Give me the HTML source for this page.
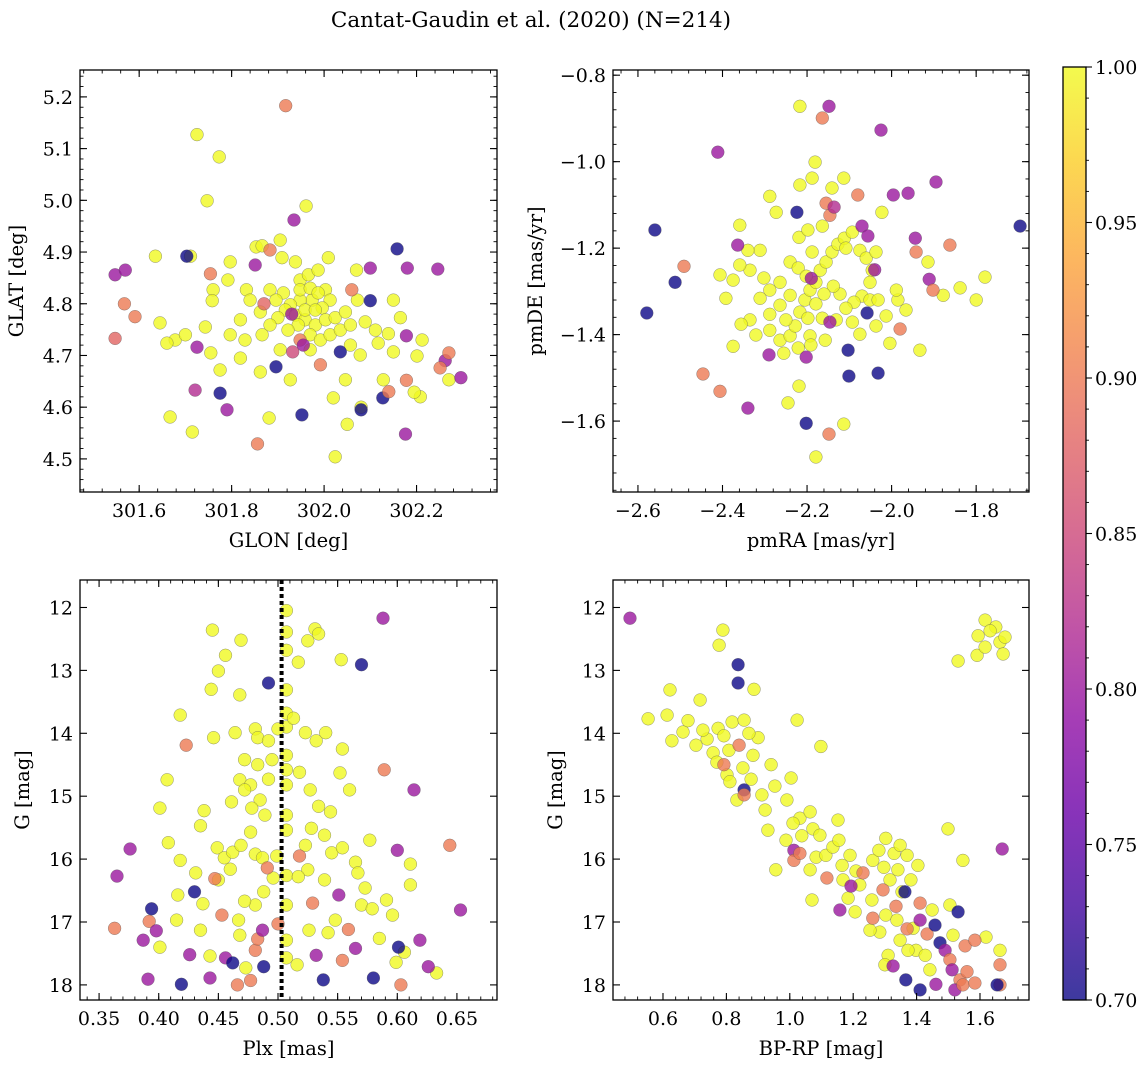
<!DOCTYPE html>
<html><head><meta charset="utf-8"><style>
html,body{margin:0;padding:0;background:#fff;}
svg{display:block;font-family:"DejaVu Serif","Liberation Serif",serif;}
</style></head><body>
<svg id="fig" width="1148" height="1067" viewBox="0 0 1148 1067" xmlns="http://www.w3.org/2000/svg">
<text x="531" y="27" font-size="21.5" text-anchor="middle" fill="#000">Cantat-Gaudin et al. (2020) (N=214)</text>
</svg>
<script>
// ---- data: [x, y, membership probability] ----
const glonGlatColored = [[301.917,5.183,0.90],[301.935,4.962,0.80],[301.703,4.892,0.70],[301.548,4.856,0.80],[301.570,4.865,0.80],[301.568,4.800,0.90],[301.591,4.775,0.90],[301.548,4.733,0.88],[301.754,4.858,0.90],[301.883,4.904,0.90],[301.851,4.875,0.80],[301.725,4.716,0.80],[301.721,4.633,0.82],[301.775,4.627,0.70],[301.790,4.595,0.80],[301.856,4.529,0.90],[301.952,4.585,0.70],[301.896,4.678,0.70],[301.932,4.707,0.85],[301.948,4.730,0.90],[301.992,4.682,0.90],[302.035,4.707,0.70],[302.060,4.827,0.90],[302.158,4.906,0.70],[302.100,4.869,0.80],[302.100,4.806,0.70],[302.180,4.869,0.80],[302.246,4.867,0.80],[302.178,4.738,0.80],[302.178,4.652,0.90],[302.176,4.548,0.80],[302.127,4.618,0.70],[302.080,4.595,0.70],[302.262,4.690,0.80],[302.270,4.705,0.90],[302.251,4.676,0.90],[302.296,4.657,0.80],[302.140,4.630,0.90],[301.955,4.720,0.80],[301.930,4.780,0.80],[301.870,4.800,0.88]];
const glonGlatYellow = [[301.725,5.127],[301.773,5.084],[301.747,4.999],[301.961,4.989],[301.635,4.892],[301.711,4.892],[301.645,4.763],[301.678,4.730],[301.660,4.724],[301.755,4.705],[301.700,4.740],[301.743,4.755],[301.760,4.827],[301.758,4.806],[301.797,4.881],[301.792,4.846],[301.832,4.827],[301.853,4.910],[301.866,4.912],[301.905,4.923],[301.883,4.827],[301.840,4.807],[301.819,4.769],[301.797,4.740],[301.829,4.730],[301.862,4.784],[301.909,4.889],[301.938,4.881],[301.948,4.846],[301.966,4.856],[301.987,4.865],[302.009,4.889],[302.003,4.827],[302.013,4.807],[301.996,4.792],[301.974,4.807],[301.948,4.807],[301.927,4.798],[301.916,4.788],[301.938,4.778],[301.959,4.769],[301.981,4.759],[302.003,4.769],[302.024,4.773],[302.046,4.784],[301.944,4.759],[301.922,4.749],[301.900,4.773],[301.883,4.759],[301.866,4.740],[301.970,4.740],[301.992,4.730],[302.013,4.740],[302.035,4.749],[302.057,4.759],[302.070,4.865],[302.072,4.807],[302.089,4.765],[302.117,4.724],[302.139,4.742],[302.150,4.807],[302.057,4.720],[302.078,4.701],[302.046,4.653],[302.020,4.618],[302.024,4.504],[302.080,4.600],[302.050,4.567],[301.881,4.579],[301.715,4.552],[301.667,4.581],[301.862,4.668],[301.927,4.653],[301.819,4.695],[301.775,4.672],[302.212,4.730],[302.201,4.699],[302.208,4.620],[302.270,4.653],[302.195,4.629],[302.111,4.749],[302.128,4.653],[301.912,4.821],[301.896,4.807],[301.948,4.827],[301.970,4.830],[301.987,4.821],[301.959,4.788],[301.981,4.788],[302.165,4.773],[302.150,4.707],[301.970,4.711],[301.905,4.711]];

const pmColored = [[-2.148,-0.872,0.80],[-2.164,-0.899,0.90],[-2.411,-0.978,0.80],[-2.025,-0.927,0.80],[-2.560,-1.158,0.70],[-2.491,-1.242,0.90],[-2.512,-1.279,0.70],[-2.579,-1.350,0.70],[-2.364,-1.193,0.80],[-1.961,-1.073,0.80],[-1.996,-1.077,0.80],[-1.895,-1.047,0.80],[-2.080,-1.077,0.90],[-2.224,-1.117,0.70],[-2.155,-1.096,0.90],[-2.146,-1.124,0.90],[-2.136,-1.105,0.82],[-2.070,-1.149,0.80],[-2.056,-1.172,0.80],[-1.944,-1.177,0.80],[-1.862,-1.193,0.90],[-1.942,-1.209,0.90],[-1.911,-1.272,0.80],[-1.902,-1.297,0.90],[-2.058,-1.350,0.70],[-1.980,-1.387,0.90],[-2.146,-1.371,0.80],[-2.290,-1.447,0.80],[-2.202,-1.452,0.80],[-2.103,-1.436,0.70],[-2.101,-1.496,0.70],[-2.032,-1.489,0.70],[-2.446,-1.491,0.90],[-2.406,-1.531,0.90],[-2.340,-1.570,0.80],[-2.202,-1.605,0.70],[-2.148,-1.630,0.90],[-1.696,-1.149,0.70],[-2.040,-1.250,0.80],[-2.190,-1.270,0.80]];
const pmYellow = [[-2.217,-0.872],[-2.181,-1.001],[-2.113,-1.607],[-2.179,-1.683],[-2.219,-1.519],[-2.245,-1.558],[-2.273,-1.117],[-2.219,-1.175],[-2.240,-1.232],[-2.264,-1.279],[-2.288,-1.297],[-2.311,-1.316],[-2.335,-1.251],[-2.359,-1.239],[-2.375,-1.274],[-2.392,-1.316],[-2.335,-1.366],[-2.321,-1.401],[-2.288,-1.390],[-2.264,-1.413],[-2.255,-1.443],[-2.240,-1.403],[-2.228,-1.380],[-2.217,-1.348],[-2.205,-1.320],[-2.193,-1.297],[-2.179,-1.279],[-2.169,-1.251],[-2.155,-1.232],[-2.141,-1.209],[-2.127,-1.191],[-2.112,-1.177],[-2.093,-1.163],[-2.075,-1.205],[-2.060,-1.223],[-2.046,-1.251],[-2.037,-1.209],[-2.051,-1.279],[-2.070,-1.311],[-2.089,-1.325],[-2.108,-1.339],[-2.122,-1.306],[-2.138,-1.288],[-2.160,-1.306],[-2.179,-1.329],[-2.198,-1.362],[-2.164,-1.362],[-2.131,-1.366],[-2.093,-1.371],[-2.075,-1.399],[-2.051,-1.320],[-2.032,-1.320],[-2.013,-1.357],[-2.037,-1.380],[-2.004,-1.420],[-1.985,-1.320],[-1.989,-1.297],[-1.966,-1.343],[-1.933,-1.436],[-1.838,-1.292],[-1.779,-1.267],[-1.800,-1.320],[-1.878,-1.309],[-1.914,-1.232],[-2.198,-1.158],[-2.164,-1.149],[-2.108,-1.200],[-2.188,-1.209],[-2.221,-1.246],[-2.202,-1.265],[-2.240,-1.309],[-2.264,-1.332],[-2.288,-1.353],[-2.302,-1.269],[-2.193,-1.403],[-2.157,-1.413],[-2.221,-1.431],[-2.191,-1.424],[-2.250,-1.366],[-2.356,-1.376],[-2.375,-1.427],[-2.406,-1.262],[-2.359,-1.147],[-2.288,-1.080],[-2.217,-1.054],[-2.188,-1.038],[-2.141,-1.061],[-2.113,-1.038],[-2.023,-1.117],[-2.311,-1.205],[-2.340,-1.205]];

const plxGColored = [[0.492,13.20,0.70],[0.570,12.91,0.70],[0.588,12.17,0.80],[0.589,14.58,0.90],[0.614,14.90,0.80],[0.644,15.78,0.90],[0.653,16.81,0.80],[0.365,16.27,0.80],[0.376,15.84,0.80],[0.363,17.10,0.90],[0.387,17.29,0.80],[0.392,16.99,0.90],[0.394,16.79,0.70],[0.391,17.91,0.80],[0.398,17.14,0.80],[0.419,17.99,0.70],[0.426,17.52,0.80],[0.430,16.52,0.70],[0.443,17.89,0.80],[0.447,16.31,0.90],[0.423,14.19,0.90],[0.453,16.89,0.90],[0.456,17.57,0.80],[0.466,18.00,0.90],[0.462,17.65,0.70],[0.477,17.93,0.90],[0.481,17.45,0.90],[0.483,17.27,0.90],[0.488,17.71,0.70],[0.487,17.13,0.80],[0.491,16.14,0.90],[0.518,15.95,0.90],[0.529,16.70,0.90],[0.532,17.53,0.80],[0.538,17.92,0.70],[0.551,16.57,0.80],[0.554,17.61,0.90],[0.559,17.12,0.90],[0.565,17.42,0.80],[0.580,17.89,0.70],[0.601,17.40,0.70],[0.603,18.00,0.90],[0.619,17.29,0.80],[0.626,17.71,0.80],[0.600,15.86,0.80],[0.500,17.03,0.90]];
const plxGYellow = [[0.445,12.36],[0.469,12.52],[0.456,12.76],[0.450,13.01],[0.444,13.30],[0.468,13.39],[0.531,12.34],[0.525,12.53],[0.534,12.42],[0.517,12.87],[0.553,12.83],[0.507,12.05],[0.507,12.39],[0.507,12.68],[0.507,13.31],[0.507,13.68],[0.507,13.90],[0.507,14.35],[0.507,14.58],[0.507,14.82],[0.507,15.30],[0.507,15.54],[0.507,16.26],[0.507,16.73],[0.507,17.29],[0.507,17.57],[0.418,13.71],[0.446,14.07],[0.464,13.99],[0.481,13.93],[0.483,14.07],[0.492,14.12],[0.500,13.93],[0.513,13.76],[0.523,13.99],[0.532,14.12],[0.540,13.99],[0.472,14.42],[0.483,14.50],[0.495,14.42],[0.468,14.74],[0.477,14.82],[0.492,14.73],[0.518,14.62],[0.527,14.90],[0.534,15.16],[0.544,15.25],[0.554,14.25],[0.552,14.63],[0.560,14.90],[0.485,15.06],[0.461,15.09],[0.478,15.19],[0.489,15.30],[0.472,14.90],[0.407,14.74],[0.401,15.19],[0.408,15.74],[0.418,16.02],[0.416,16.57],[0.415,16.97],[0.431,16.22],[0.435,15.47],[0.438,15.23],[0.449,15.82],[0.455,15.98],[0.460,16.16],[0.462,15.89],[0.469,15.78],[0.477,15.57],[0.481,15.92],[0.487,15.98],[0.499,15.95],[0.496,16.30],[0.488,16.52],[0.481,16.73],[0.472,16.67],[0.467,16.97],[0.468,17.21],[0.523,15.78],[0.528,15.51],[0.539,15.62],[0.545,15.90],[0.554,15.82],[0.565,16.05],[0.567,16.22],[0.577,15.70],[0.573,16.46],[0.570,16.73],[0.579,16.79],[0.591,16.65],[0.596,16.89],[0.585,17.26],[0.599,17.64],[0.606,17.48],[0.611,16.41],[0.611,16.08],[0.633,17.81],[0.525,16.17],[0.539,16.33],[0.548,16.97],[0.526,17.13],[0.517,16.28],[0.542,17.17],[0.516,17.68],[0.401,17.40],[0.435,17.13],[0.450,16.33],[0.437,16.71],[0.443,17.54],[0.473,17.73]];
const plxLine = 0.503;

const cmdColored = [[0.496,12.17,0.80],[0.837,12.91,0.70],[0.837,13.20,0.70],[0.840,14.19,0.90],[0.792,14.50,0.90],[0.856,14.90,0.70],[0.856,14.98,0.90],[1.013,15.86,0.80],[1.013,16.02,0.90],[1.032,15.91,0.90],[1.117,16.30,0.90],[1.158,16.81,0.80],[1.193,16.43,0.80],[1.231,16.22,0.90],[1.262,16.94,0.90],[1.294,16.49,0.90],[1.335,16.75,0.90],[1.363,16.52,0.70],[1.370,17.11,0.90],[1.326,17.70,0.80],[1.411,16.70,0.90],[1.411,16.97,0.80],[1.433,17.19,0.90],[1.458,17.05,0.70],[1.474,17.33,0.70],[1.490,17.45,0.80],[1.505,17.60,0.90],[1.512,17.76,0.80],[1.537,17.92,0.90],[1.521,18.08,0.80],[1.546,18.00,0.90],[1.559,17.79,0.90],[1.553,17.38,0.90],[1.531,16.84,0.70],[1.366,17.92,0.70],[1.411,18.08,0.70],[1.461,17.99,0.80],[1.584,17.29,0.90],[1.584,17.97,0.90],[1.663,18.00,0.90],[1.663,17.68,0.90],[1.654,18.00,0.70],[1.670,15.84,0.80]];
const cmdYellow = [[1.594,12.45],[1.591,12.76],[1.616,12.63],[1.663,12.55],[1.673,12.74],[1.531,12.85],[1.650,12.31],[1.616,12.20],[1.632,12.37],[1.679,12.47],[0.553,13.77],[0.613,13.71],[0.628,14.12],[0.663,13.98],[0.679,13.80],[0.704,14.19],[0.739,14.09],[0.758,14.31],[0.774,13.92],[0.792,14.04],[0.808,14.27],[0.770,14.46],[0.802,14.66],[0.852,14.55],[0.878,14.73],[0.811,14.77],[0.833,15.06],[0.912,14.98],[0.953,14.84],[0.922,15.22],[0.991,15.06],[1.032,15.35],[1.064,15.25],[1.010,15.43],[0.988,15.70],[1.038,15.63],[1.073,15.52],[1.095,15.62],[1.083,15.97],[1.064,16.17],[1.114,15.94],[1.136,15.81],[1.155,15.70],[1.165,16.10],[1.190,15.94],[1.209,16.19],[1.168,16.33],[1.221,16.41],[1.262,16.02],[1.281,15.86],[1.297,16.13],[1.316,16.33],[1.341,16.17],[1.259,16.65],[1.303,16.89],[1.284,17.16],[1.338,16.97],[1.348,17.29],[1.389,17.10],[1.398,17.45],[1.310,17.53],[1.427,17.53],[1.449,16.81],[1.505,16.73],[1.354,16.52],[1.382,16.33],[1.404,16.10],[1.329,15.91],[1.348,15.78],[1.370,15.94],[1.303,15.67],[1.152,15.38],[0.931,15.54],[1.004,14.71],[0.941,14.50],[0.884,14.35],[0.900,14.07],[0.818,13.82],[0.717,13.47],[0.887,13.30],[0.777,12.60],[0.789,12.36],[0.622,13.31],[0.726,13.95],[0.871,14.00],[0.856,13.79],[1.023,13.79],[0.956,16.17],[1.070,16.65],[1.184,16.62],[1.206,16.84],[1.253,17.13],[1.300,17.68],[1.373,17.45],[1.442,17.76],[1.515,17.21],[1.619,17.24],[1.663,17.45],[1.546,16.02],[1.499,15.52],[1.098,14.21]];

const glonTicks = [301.6, 301.8, 302.0, 302.2];
const glatTicks = [4.5, 4.6, 4.7, 4.8, 4.9, 5.0, 5.1, 5.2];
const pmraTicks = [-2.6, -2.4, -2.2, -2.0, -1.8];
const pmdeTicks = [-1.6, -1.4, -1.2, -1.0, -0.8];
const plxTicks = [0.35, 0.40, 0.45, 0.50, 0.55, 0.60, 0.65];
const gTicks = [12, 13, 14, 15, 16, 17, 18];
const bprpTicks = [0.6, 0.8, 1.0, 1.2, 1.4, 1.6];
const cbarTicks = [0.70, 0.75, 0.80, 0.85, 0.90, 0.95, 1.00];

const NS = 'http://www.w3.org/2000/svg';
const svg = document.getElementById('fig');
const stops = ['#0d0887','#41049d','#6a00a8','#8f0da4','#b12a90','#cc4778','#e16462','#f2844b','#fca636','#fcce25','#f0f921'];
function hex(c){return [parseInt(c.substr(1,2),16),parseInt(c.substr(3,2),16),parseInt(c.substr(5,2),16)];}
function plasma(t){
  t=Math.max(0,Math.min(1,t));const f=t*10;const i=Math.min(9,Math.floor(f));const u=f-i;
  const a=hex(stops[i]),b=hex(stops[i+1]);
  return 'rgb('+a.map((v,k)=>Math.round(v+(b[k]-v)*u)).join(',')+')';
}
function colorOf(p){return plasma((p-0.7)/0.3);}
function mk(tag,attrs,parent){const e=document.createElementNS(NS,tag);for(const k in attrs)e.setAttribute(k,attrs[k]);(parent||svg).appendChild(e);return e;}
function fmtMinus(s){return s.replace('-','\u2212');}
const TF=19, AF=19.5;

function panel(cfg){
  const g=mk('g',{});
  
  
  const sx=v=>cfg.L+(v-cfg.x0)/(cfg.x1-cfg.x0)*(cfg.R-cfg.L);
  const sy=v=>cfg.B-(v-cfg.y0)/(cfg.y1-cfg.y0)*(cfg.B-cfg.T);
  const drawPt=(x,y,p)=>{
    const c=mk('circle',{cx:sx(x).toFixed(1),cy:sy(y).toFixed(1),r:6.4,fill:colorOf(p),'fill-opacity':0.8,stroke:'#555','stroke-width':0.4,'stroke-opacity':0.8},g);
    
    
  };
  cfg.yellow.forEach(d=>drawPt(d[0],d[1],1.0));
  cfg.colored.forEach(d=>drawPt(d[0],d[1],d[2]));
  if(cfg.vline!==undefined){
    const ln=mk('line',{x1:sx(cfg.vline),x2:sx(cfg.vline),y1:cfg.T,y2:cfg.B,stroke:'#000','stroke-width':4,'stroke-dasharray':'4,3'},g);
    
    
  }
  const fr=mk('rect',{x:cfg.L,y:cfg.T,width:cfg.R-cfg.L,height:cfg.B-cfg.T,fill:'none',stroke:'#000','stroke-width':1.3},g);
  
  
  const tk=(x1,y1,x2,y2,w)=>mk('line',{x1,y1,x2,y2,stroke:'#000','stroke-width':w},g);
  const xm0=Math.ceil(cfg.x0/cfg.xminor-1e-6);
  for(let k=xm0;k*cfg.xminor<=cfg.x1;k++){const X=sx(k*cfg.xminor);tk(X,cfg.B,X,cfg.B-3.5,0.9);tk(X,cfg.T,X,cfg.T+3.5,0.9);}
  const ym0=Math.ceil(cfg.y0/cfg.yminor-1e-6);
  for(let k=ym0;k*cfg.yminor<=cfg.y1;k++){const Y=sy(k*cfg.yminor);tk(cfg.L,Y,cfg.L+3.5,Y,0.9);tk(cfg.R,Y,cfg.R-3.5,Y,0.9);}
  cfg.xticks.forEach(v=>{const X=sx(v);tk(X,cfg.B,X,cfg.B-7,1.1);tk(X,cfg.T,X,cfg.T+7,1.1);
    const t=mk('text',{x:X,y:cfg.B+25,'font-size':TF,'text-anchor':'middle',fill:'#000'},g);t.textContent=fmtMinus(v.toFixed(cfg.xdec));
    
    });
  cfg.yticks.forEach(v=>{const Y=sy(v);tk(cfg.L,Y,cfg.L+7,Y,1.1);tk(cfg.R,Y,cfg.R-7,Y,1.1);
    const t=mk('text',{x:cfg.L-7,y:Y+7,'font-size':TF,'text-anchor':'end',fill:'#000'},g);t.textContent=fmtMinus(v.toFixed(cfg.ydec));
    
    });
  const xl=mk('text',{x:(cfg.L+cfg.R)/2,y:cfg.B+55,'font-size':AF,'text-anchor':'middle',fill:'#000'},g);xl.textContent=cfg.xlabel;
  
  
  const yx=cfg.ylx, yy=(cfg.T+cfg.B)/2;
  const yl=mk('text',{x:yx,y:yy,'font-size':AF,'text-anchor':'middle',fill:'#000',transform:'rotate(-90 '+yx+' '+yy+')'},g);yl.textContent=cfg.ylabel;
  
  
}

panel({name:'panel-glon-glat',L:80,R:497,T:70,B:492,x0:301.472,x1:302.374,y0:4.436,y1:5.252,xminor:0.04,yminor:0.02,xticks:glonTicks,yticks:glatTicks,xdec:1,ydec:1,xlabel:'GLON [deg]',ylabel:'GLAT [deg]',ylx:23,yellow:glonGlatYellow,colored:glonGlatColored});
panel({name:'panel-proper-motion',L:613,R:1029,T:70,B:492,x0:-2.659,x1:-1.675,y0:-1.764,y1:-0.788,xminor:0.04,yminor:0.04,xticks:pmraTicks,yticks:pmdeTicks,xdec:1,ydec:1,xlabel:'pmRA [mas/yr]',ylabel:'pmDE [mas/yr]',ylx:542,yellow:pmYellow,colored:pmColored});
panel({name:'panel-parallax-mag',L:80,R:497,T:580,B:1000,x0:0.334,x1:0.6836,y0:18.240,y1:11.563,xminor:0.01,yminor:0.2,xticks:plxTicks,yticks:gTicks,xdec:2,ydec:0,xlabel:'Plx [mas]',ylabel:'G [mag]',ylx:29,yellow:plxGYellow,colored:plxGColored,vline:plxLine});
panel({name:'panel-color-magnitude',L:613,R:1029,T:580,B:1000,x0:0.4423,x1:1.7546,y0:18.240,y1:11.563,xminor:0.04,yminor:0.2,xticks:bprpTicks,yticks:gTicks,xdec:1,ydec:0,xlabel:'BP-RP [mag]',ylabel:'G [mag]',ylx:562,yellow:cmdYellow,colored:cmdColored});

(function(){
  const L=1063,R=1086,T=67,B=1000;
  const cg=mk('g',{});
  
  
  const defs=mk('defs',{},cg);
  const lg=mk('linearGradient',{id:'cbg',x1:0,y1:1,x2:0,y2:0},defs);
  for(let i=0;i<=20;i++){mk('stop',{offset:i/20,'stop-color':plasma(i/20),'stop-opacity':0.8},lg);}
  mk('rect',{x:L,y:T,width:R-L,height:B-T,fill:'url(#cbg)'},cg);
  mk('rect',{x:L,y:T,width:R-L,height:B-T,fill:'none',stroke:'#000','stroke-width':1.3},cg);
  const sy=v=>B-(v-0.7)/0.3*(B-T);
  for(let k=70;k<=100;k++){const Y=sy(k/100);mk('line',{x1:R,x2:R+3,y1:Y,y2:Y,stroke:'#000','stroke-width':0.9},cg);}
  cbarTicks.forEach(v=>{const Y=sy(v);mk('line',{x1:R,x2:R+6,y1:Y,y2:Y,stroke:'#000','stroke-width':1.1},cg);
    const t=mk('text',{x:R+9,y:Y+7,'font-size':TF,fill:'#000'},cg);t.textContent=v.toFixed(2);
    
    });
})();
</script>
</body></html>
